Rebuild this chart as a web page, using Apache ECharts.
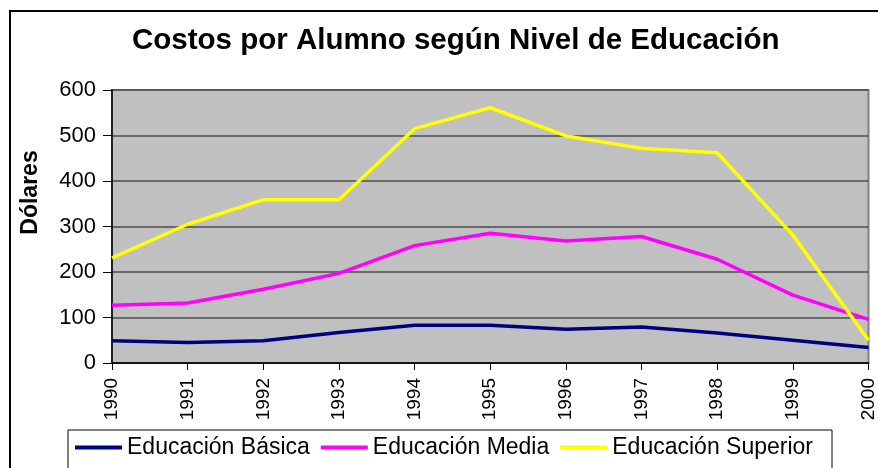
<!DOCTYPE html>
<html>
<head>
<meta charset="utf-8">
<script src="https://cdn.jsdelivr.net/npm/echarts@6/dist/echarts.min.js"></script>
<style>
  html, body { margin: 0; padding: 0; background: #fff; }
  #chart { width: 878px; height: 468px; }
</style>
</head>
<body>
<div id="chart"></div>
<script>
// datos
const years = ['1990', '1991', '1992', '1993', '1994', '1995', '1996', '1997', '1998', '1999', '2000'];
const basica = [49, 45, 49, 67, 83, 83, 74, 79, 66, 50, 34];
const media = [127, 132, 162, 197, 258, 285, 268, 278, 228, 149, 96];
const superior = [231, 305, 359, 359, 515, 561, 499, 472, 462, 281, 50];
const yTicks = { min: 0, max: 600, interval: 100 };

const font = 'Liberation Sans, Arial, sans-serif';

const chart = echarts.init(document.getElementById('chart'));

const makeSeries = (name, data, color) => ({
  name,
  type: 'line',
  data,
  symbol: 'none',
  lineStyle: { color, width: 3.5 },
  itemStyle: { color },
  z: 3
});

chart.setOption({
  animation: false,
  title: {
    text: 'Costos por Alumno según Nivel de Educación',
    left: 127,
    top: 21,
    textStyle: { fontFamily: font, fontSize: 29.5, fontWeight: 'bold', color: '#000' }
  },
  graphic: [
    {
      type: 'rect',
      shape: { x: 10, y: 11, width: 900, height: 500 },
      style: { fill: 'none', stroke: '#000', lineWidth: 2 },
      z: 0
    },
    {
      type: 'rect',
      shape: { x: 68, y: 430, width: 764, height: 60 },
      style: { fill: '#fff', stroke: '#000', lineWidth: 1 },
      z: 1
    }
  ],
  legend: {
    left: 75,
    top: 436,
    itemWidth: 47,
    itemHeight: 4,
    itemGap: 11,
    padding: 0,
    icon: 'rect',
    z: 5,
    textStyle: { fontFamily: font, fontSize: 23, color: '#000', padding: [0, 0, 0, 0] },
    data: ['Educación Básica', 'Educación Media', 'Educación Superior']
  },
  grid: {
    left: 112,
    right: 3,
    top: 90,
    bottom: 105,
    show: true,
    backgroundColor: '#c0c0c0',
    borderColor: '#808080',
    borderWidth: 2
  },
  xAxis: {
    type: 'category',
    data: years,
    boundaryGap: false,
    axisLine: { lineStyle: { color: '#000', width: 1.5 } },
    axisTick: { alignWithLabel: true, length: 7, lineStyle: { color: '#000' } },
    axisLabel: { rotate: 90, margin: 15, fontFamily: font, fontSize: 19, color: '#000', interval: 0 }
  },
  yAxis: {
    type: 'value',
    min: yTicks.min,
    max: yTicks.max,
    interval: yTicks.interval,
    name: 'Dólares',
    nameLocation: 'middle',
    nameRotate: 90,
    nameGap: 70,
    nameTextStyle: { fontFamily: font, fontSize: 23, fontWeight: 'bold', color: '#000', padding: [0, 0, 0, 68] },
    axisLine: { show: true, lineStyle: { color: '#000', width: 1.5 } },
    axisTick: { show: true, length: 9, lineStyle: { color: '#000' } },
    axisLabel: { margin: 16, fontFamily: font, fontSize: 22, color: '#000' },
    splitLine: { show: true, lineStyle: { color: '#4d4d4d', width: 1.5 } }
  },
  series: [
    makeSeries('Educación Básica', basica, '#000080'),
    makeSeries('Educación Media', media, '#ff00ff'),
    makeSeries('Educación Superior', superior, '#ffff00')
  ]
});
</script>
</body>
</html>
